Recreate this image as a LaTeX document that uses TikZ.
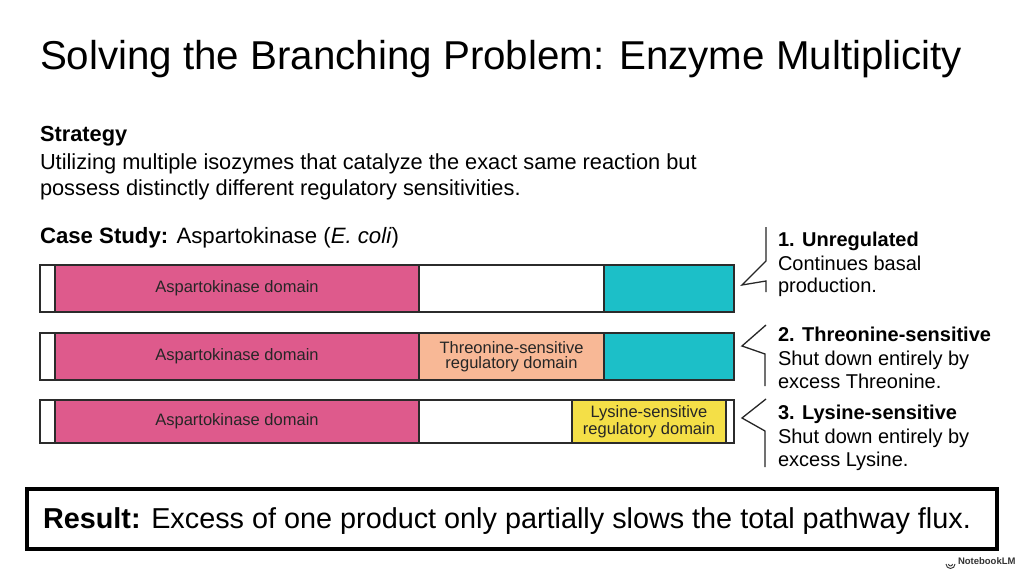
\documentclass[tikz,border=0pt]{standalone}
\usepackage{fontspec}
\setmainfont{Liberation Sans}
\definecolor{akpink}{HTML}{DE5A8C}
\definecolor{akteal}{HTML}{1CBFC8}
\definecolor{akpeach}{HTML}{F8B896}
\definecolor{akyellow}{HTML}{F4DF47}
\definecolor{edge}{HTML}{2B2B2B}
\newcommand{\fs}[1]{\fontsize{#1}{#1}\selectfont}
\tikzset{
  txt/.style={anchor=base west, inner sep=0pt, outer sep=0pt},
  seg/.style={draw=edge, line width=1.4pt},
  dom/.style={inner sep=0pt, align=center, font=\fs{16.5}, text=black!85},
  brace/.style={draw=black!85, line width=1.3pt, line join=miter},
}
\begin{document}
\begin{tikzpicture}[x=1pt,y=-1pt]
\useasboundingbox[fill=white] (0,0) rectangle (1024,572);
% title
\node[txt, font=\fs{40.3}] (title) at (40,70) {Solving the Branching Problem: Enzyme Multiplicity};
% strategy
\node[txt, font=\bfseries\fs{21.8}] (strat) at (40,142) {Strategy};
\node[txt, font=\fs{21.8}] (s1) at (40,170) {Utilizing multiple isozymes that catalyze the exact same reaction but};
\node[txt, font=\fs{21.8}] (s2) at (40,195) {possess distinctly different regulatory sensitivities.};
\node[txt, font=\fs{22.2}] (case) at (40,243) {\textbf{Case Study:} Aspartokinase (\textit{E. coli})};
% bar 1
\path[seg, fill=white]   (40,265) rectangle (55,312);
\path[seg, fill=akpink]  (55,265) rectangle (419,312);
\path[seg, fill=white]   (419,265) rectangle (604,312);
\path[seg, fill=akteal]  (604,265) rectangle (734,312);
\node[dom] (ak1) at (237,288.5) {Aspartokinase domain};
% bar 2
\path[seg, fill=white]   (40,333) rectangle (55,380);
\path[seg, fill=akpink]  (55,333) rectangle (419,380);
\path[seg, fill=akpeach] (419,333) rectangle (604,380);
\path[seg, fill=akteal]  (604,333) rectangle (734,380);
\node[dom] (ak2) at (237,356.5) {Aspartokinase domain};
\node[dom] (thr) at (511.5,356.5) {Threonine-sensitive\\[-1pt]regulatory domain};
% bar 3
\path[seg, fill=white]    (40,400) rectangle (55,443);
\path[seg, fill=akpink]   (55,400) rectangle (419,443);
\path[seg, fill=white]    (419,400) rectangle (572,443);
\path[seg, fill=akyellow] (572,400) rectangle (726,443);
\path[seg, fill=white]    (726,400) rectangle (734,443);
\node[dom] (ak3) at (237,421.5) {Aspartokinase domain};
\node[dom] (lys) at (649,421.5) {Lysine-sensitive\\[0pt]regulatory domain};
% braces
\draw[brace] (766,227) -- (766,261) -- (742,285) -- (766,281) -- (766,292);
\draw[brace] (766,325) -- (742,346) -- (765,354) -- (765,386);
\draw[brace] (766,399) -- (742,418) -- (765,431) -- (765,467);
% right texts
\node[txt, font=\bfseries\fs{20}] (r1a) at (778,246) {1. Unregulated};
\node[txt, font=\fs{20}] (r1b) at (778,270) {Continues basal};
\node[txt, font=\fs{20}] (r1c) at (778,292) {production.};
\node[txt, font=\bfseries\fs{20}] (r2a) at (778,341) {2. Threonine-sensitive};
\node[txt, font=\fs{20}] (r2b) at (778,365) {Shut down entirely by};
\node[txt, font=\fs{20}] (r2c) at (778,388) {excess Threonine.};
\node[txt, font=\bfseries\fs{20}] (r3a) at (778,419) {3. Lysine-sensitive};
\node[txt, font=\fs{20}] (r3b) at (778,443) {Shut down entirely by};
\node[txt, font=\fs{20}] (r3c) at (778,466) {excess Lysine.};
% result box
\draw[line width=4pt, draw=black] (27,489) rectangle (997,549);
\node[txt, font=\fs{28.8}] (res) at (43,528) {\textbf{Result:} Excess of one product only partially slows the total pathway flux.};
% logo
\node[txt, font=\bfseries\fs{9.5}, text=black!80] (logo) at (958,564) {NotebookLM};
\begin{scope}[line width=0.9pt, draw=black!80]
\draw (946,564) arc (180:0:4.5);
\draw (948.5,564) arc (180:0:2);
\end{scope}
\end{tikzpicture}
\end{document}
